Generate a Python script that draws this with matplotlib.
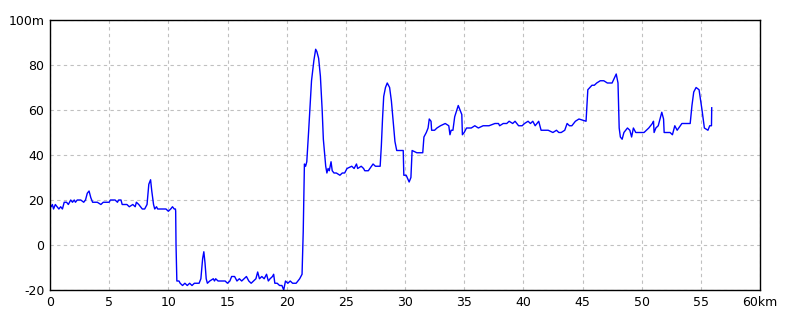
"""Elevation profile (km vs m)"""
import numpy as np
import matplotlib
matplotlib.use('Agg')
import matplotlib.pyplot as plt

# distance along route (km) and elevation (m)
dist_km = [0.0, 0.1, 0.2, 0.3, 0.45, 0.6, 0.75, 0.9, 1.05, 1.2, 1.4, 1.55, 1.75, 1.9,
           2.05, 2.15, 2.3, 2.6, 2.85, 3.0, 3.15, 3.3, 3.45, 3.6, 4.0, 4.3, 4.5, 5.0,
           5.1, 5.5, 5.7, 5.8, 6.0, 6.1, 6.5, 6.7, 7.0, 7.2, 7.3, 7.5, 7.8, 8.0, 8.2,
           8.35, 8.5, 8.6, 8.75, 8.85, 9.0, 9.1, 9.8, 10.0, 10.2, 10.35, 10.5, 10.6,
           10.62, 10.65, 10.72, 10.9, 11.0, 11.2, 11.4, 11.6, 11.8, 12.0, 12.2, 12.6,
           12.75, 12.9, 13.0, 13.1, 13.2, 13.3, 13.5, 13.8, 13.9, 14.0, 14.2, 14.5,
           14.8, 15.0, 15.2, 15.35, 15.6, 15.8, 16.0, 16.2, 16.4, 16.6, 16.8, 17.0,
           17.2, 17.4, 17.55, 17.7, 17.9, 18.1, 18.3, 18.45, 18.6, 18.8, 18.9, 19.0,
           19.2, 19.4, 19.6, 19.75, 19.9, 20.1, 20.3, 20.5, 20.8, 21.1, 21.3, 21.4,
           21.5, 21.6, 21.7, 21.85, 22.0, 22.1, 22.3, 22.45, 22.55, 22.7, 22.85, 23.0,
           23.1, 23.3, 23.4, 23.5, 23.6, 23.75, 23.85, 24.0, 24.2, 24.5, 24.7, 24.9,
           25.1, 25.5, 25.7, 25.9, 26.0, 26.3, 26.5, 26.6, 26.9, 27.3, 27.5, 27.9,
           28.0, 28.1, 28.2, 28.35, 28.5, 28.7, 28.85, 29.0, 29.15, 29.3, 29.85, 29.9,
           30.1, 30.35, 30.5, 30.6, 31.0, 31.5, 31.6, 31.8, 31.95, 32.05, 32.2, 32.25,
           32.5, 32.7, 33.0, 33.4, 33.7, 33.8, 33.9, 34.05, 34.2, 34.5, 34.65, 34.8,
           34.85, 35.0, 35.2, 35.6, 35.9, 36.2, 36.6, 37.1, 37.6, 37.9, 38.0, 38.3,
           38.6, 38.8, 39.1, 39.3, 39.6, 39.9, 40.1, 40.4, 40.6, 40.8, 41.0, 41.3,
           41.5, 41.8, 42.1, 42.5, 42.8, 43.0, 43.2, 43.5, 43.7, 43.9, 44.1, 44.4,
           44.7, 45.3, 45.45, 45.8, 46.0, 46.2, 46.5, 46.8, 47.1, 47.5, 47.85, 48.0,
           48.1, 48.2, 48.35, 48.5, 48.8, 49.0, 49.15, 49.3, 49.5, 49.8, 50.2, 50.6,
           50.9, 51.0, 51.05, 51.2, 51.4, 51.7, 51.85, 51.9, 52.4, 52.6, 52.8, 53.0,
           53.4, 53.8, 54.1, 54.25, 54.4, 54.6, 54.85, 55.1, 55.3, 55.6, 55.75, 55.9,
           55.92]
elev_m = [18, 17, 18, 16, 18, 17, 16, 17, 16, 19, 19, 18, 20, 19,
          20, 19, 20, 20, 19, 20, 23, 24, 21, 19, 19, 18, 19, 19,
          20, 20, 19, 20, 20, 18, 18, 17, 18, 17, 19, 18, 16, 16, 18,
          27, 29, 24, 18, 16, 17, 16, 16, 15, 16, 17, 16, 16,
          15, 0, -16, -16, -17, -18, -17, -18, -17, -18, -17, -17,
          -15, -6, -3, -8, -15, -17, -16, -15, -16, -15, -16, -16,
          -16, -17, -16, -14, -14, -16, -15, -16, -15, -14, -16, -17,
          -16, -15, -12, -15, -14, -15, -13, -16, -15, -14, -13, -17,
          -17, -18, -18, -20, -16, -17, -16, -17, -17, -15, -13, 6,
          36, 35, 37, 50, 64, 73, 82, 87, 86, 83, 75, 60,
          47, 35, 32, 34, 33, 37, 33, 32, 32, 31, 32, 32,
          34, 35, 34, 36, 34, 35, 34, 33, 33, 36, 35, 35,
          44, 56, 66, 70, 72, 70, 64, 55, 46, 42, 42, 31,
          31, 28, 30, 42, 41, 41, 48, 50, 52, 56, 55, 51,
          51, 52, 53, 54, 53, 49, 51, 51, 57, 62, 60, 58,
          49, 50, 52, 52, 53, 52, 53, 53, 54, 54, 53, 54,
          54, 55, 54, 55, 53, 53, 54, 55, 54, 55, 53, 55,
          51, 51, 51, 50, 51, 50, 50, 51, 54, 53, 53, 55,
          56, 55, 69, 71, 71, 72, 73, 73, 72, 72, 76, 72,
          52, 48, 47, 50, 52, 51, 48, 52, 50, 50, 50, 52,
          54, 55, 50, 52, 53, 59, 56, 50, 50, 49, 53, 51,
          54, 54, 54, 62, 68, 70, 69, 60, 52, 51, 53, 53,
          61]

x_ticks = [0, 5, 10, 15, 20, 25, 30, 35, 40, 45, 50, 55, 60]
x_labels = ['0', '5', '10', '15', '20', '25', '30', '35', '40', '45', '50', '55', '60km']
y_ticks = [-20, 0, 20, 40, 60, 80, 100]
y_labels = ['-20', '0', '20', '40', '60', '80', '100m']

plt.rcParams['font.family'] = ['Liberation Sans Narrow', 'DejaVu Sans']

fig = plt.figure(figsize=(8, 3.2), dpi=100)
ax = fig.add_axes([0.0625, 0.09375, 0.8875, 0.84375])

ax.plot(dist_km, elev_m, color='#0000ff', lw=1.0)

ax.set_xlim(0, 60)
ax.set_ylim(-20, 100)
ax.set_xticks(x_ticks)
ax.set_xticklabels(x_labels)
ax.set_yticks(y_ticks)
ax.set_yticklabels(y_labels)
ax.tick_params(length=0, labelsize=9, pad=4)
ax.grid(color='#c0c0c0', linestyle=(0, (3, 3)), linewidth=0.8)
for s in ax.spines.values():
    s.set_linewidth(1.0)
    s.set_color('black')

fig.savefig('out.png', dpi=100, facecolor='white')
